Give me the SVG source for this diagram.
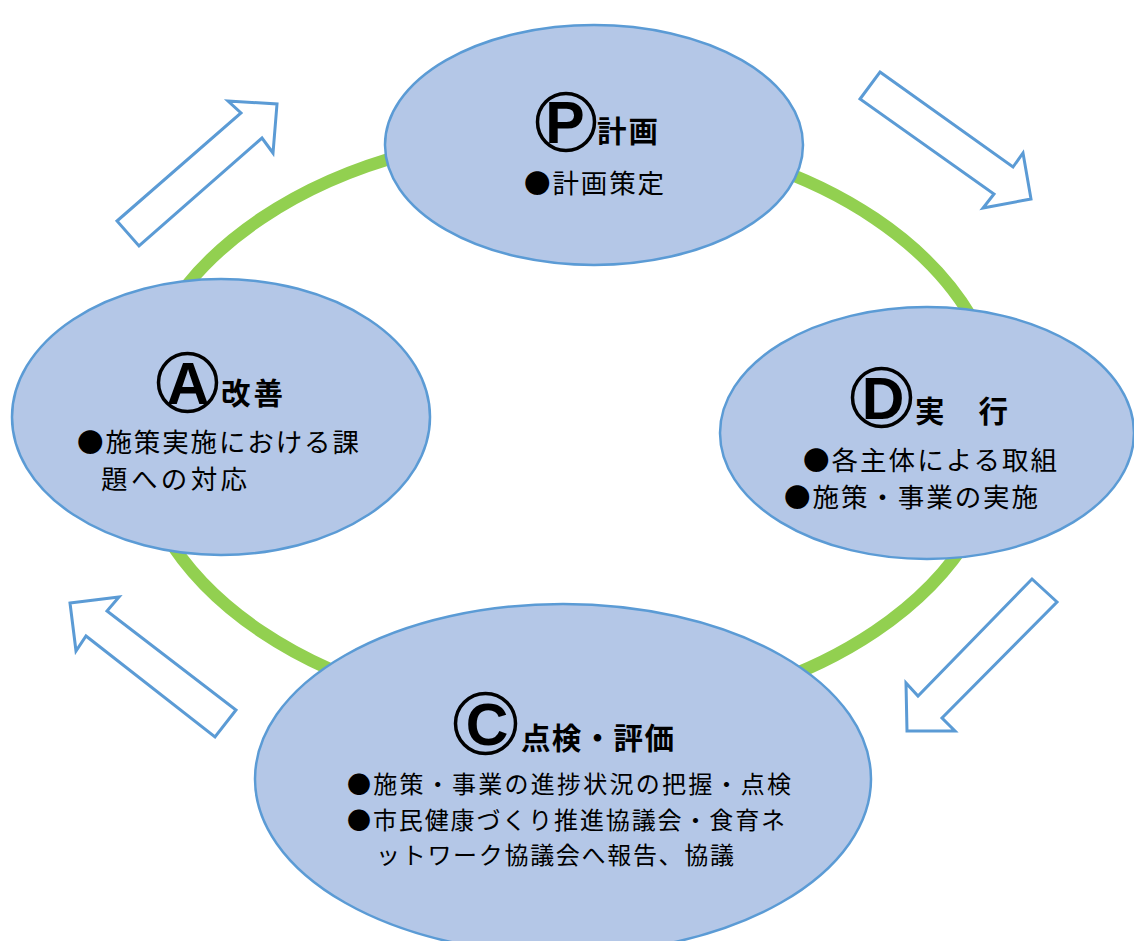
<svg xmlns="http://www.w3.org/2000/svg" width="1134" height="941" viewBox="0 0 1134 941">
<style>
.node{fill:#B4C7E7;stroke:#5B9BD5;stroke-width:2.5}
.arrow{fill:#FFFFFF;stroke:#5B9BD5;stroke-width:3;stroke-linejoin:miter}
.ring{fill:none;stroke:#92D050;stroke-width:12.5}
.ttl{font-family:"Noto Sans CJK JP","Noto Sans",sans-serif;font-weight:bold;font-size:29.5px;fill:#000}
.body{font-family:"Noto Sans CJK JP","Noto Sans",sans-serif;font-size:26.5px;fill:#000}
.bodyc{font-family:"Noto Sans CJK JP","Noto Sans",sans-serif;font-size:24px;fill:#000}
.ltr{font-family:"Liberation Sans",Arial,sans-serif;font-weight:bold;font-size:59px;fill:#000;text-anchor:middle}
.cir{fill:none;stroke:#000;stroke-width:3.5}
</style>
<rect width="1134" height="941" fill="#FFFFFF"/>
<g id="connectors">
<ellipse class="ring" cx="568" cy="425" rx="434" ry="292"/>
<polygon class="arrow" points="117,221 241,113 228,101 277,104 273,153 262,138 139,246"/>
<polygon class="arrow" points="880,72 1013,167 1023,153 1031,199 983,208 994,194 860,99"/>
<polygon class="arrow" points="1032,579 1057,602 942,718 955,731 907,731 906,683 918,696"/>
<polygon class="arrow" points="70,603 119,597 107,611 236,710 215,737 86,636 76,651"/>
</g>
<g id="plan">
<ellipse class="node" cx="594" cy="145" rx="209" ry="120"/>
<circle class="cir" cx="566" cy="122" r="28.5"/>
<text class="ltr" x="565" y="143">P</text>
<text class="ttl" x="597" y="142" textLength="61">計画</text>
<text class="body" x="524" y="193" textLength="140">●計画策定</text>
</g>
<g id="do">
<ellipse class="node" cx="927" cy="433" rx="207" ry="126"/>
<circle class="cir" cx="881.5" cy="397.5" r="29"/>
<text class="ltr" x="883" y="419">D</text>
<text class="ttl" x="915" y="422" textLength="93">実　行</text>
<text class="body" x="803" y="470" textLength="254">●各主体による取組</text>
<text class="body" x="784" y="507" textLength="254">●施策・事業の実施</text>
</g>
<g id="check">
<ellipse class="node" cx="563" cy="779" rx="308" ry="175"/>
<circle class="cir" cx="485.5" cy="723.5" r="30"/>
<text class="ltr" x="487" y="745">C</text>
<text class="ttl" x="521" y="749" textLength="153">点検・評価</text>
<text class="bodyc" x="347" y="793" textLength="444">●施策・事業の進捗状況の把握・点検</text>
<text class="bodyc" x="347" y="829" textLength="438">●市民健康づくり推進協議会・食育ネ</text>
<text class="bodyc" x="376" y="864" textLength="358">ットワーク協議会へ報告、協議</text>
</g>
<g id="act">
<ellipse class="node" cx="221" cy="417" rx="209" ry="138"/>
<circle class="cir" cx="187.5" cy="382.5" r="29"/>
<text class="ltr" x="188" y="404">A</text>
<text class="ttl" x="221" y="404" textLength="62">改善</text>
<text class="body" x="77" y="452" textLength="282">●施策実施における課</text>
<text class="body" x="101" y="489" textLength="146">題への対応</text>
</g>
</svg>
